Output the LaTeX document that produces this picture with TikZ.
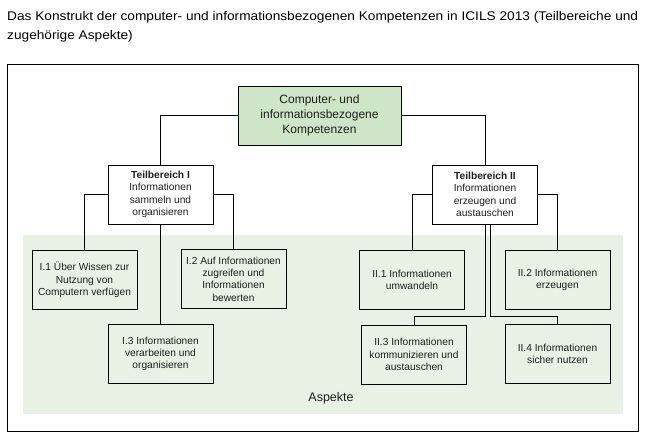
\documentclass[tikz,border=0pt]{standalone}
\usepackage{fontspec}
\setmainfont{Liberation Sans}
\usetikzlibrary{calc}
\definecolor{topgreen}{RGB}{206,229,199}
\definecolor{areagreen}{RGB}{232,241,227}
\definecolor{txt}{RGB}{30,30,30}
\newsavebox\titlebox
\newcommand\titlefont{\fontsize{12.6}{14}\selectfont}
\begin{document}
\sbox\titlebox{\titlefont Das Konstrukt der computer- und informationsbezogenen Kompetenzen in ICILS 2013 (Teilbereiche und}%
\pgfmathsetmacro\tfac{631/\the\wd\titlebox}%
\begin{tikzpicture}[x=1pt,y=-1pt,
  box/.style={draw=black, line width=0.8pt, minimum width=105pt, minimum height=59pt,
    inner sep=0pt, align=center, text=txt, font=\fontsize{10.2}{12.3}\selectfont},
  tbox/.style={box, fill=white},
  conn/.style={draw=black, line width=0.8pt},
  titletext/.style={anchor=base west, inner sep=0pt, text=black}]
\useasboundingbox (0,0) rectangle (648,441);
% title
\node[titletext] (title1) at (7,20.7) {\scalebox{\tfac}[1]{\usebox\titlebox}};
\node[titletext] (title2) at (7,39.3) {\scalebox{\tfac}[1]{\titlefont zugehörige Aspekte)}};
% frame
\draw[line width=1pt] (7,65) rectangle (638,431);
% aspect area
\fill[areagreen] (23,235) rectangle (623,414);
\node[text=txt, font=\fontsize{12.5}{14}\selectfont, inner sep=0pt] (asp) at (331,398) {Aspekte};
% top node
\node[draw=black, line width=0.8pt, fill=topgreen, minimum width=163pt, minimum height=59pt,
  inner sep=0pt, align=center, text=txt, font=\fontsize{12}{15}\selectfont]
  (top) at (319.5,115.5) {Computer- und\\informationsbezogene\\Kompetenzen};
% Teilbereiche
\node[tbox] (T1) at (160.5,194.5) {\textbf{Teilbereich I}\\Informationen\\sammeln und\\organisieren};
\node[tbox] (T2) at (485,194.5) {\textbf{Teilbereich II}\\Informationen\\erzeugen und\\austauschen};
% aspects
\node[box] (A11) at (84.5,280) {I.1 Über Wissen zur\\Nutzung von\\Computern verfügen};
\node[box] (A12) at (233.5,279) {I.2 Auf Informationen\\zugreifen und\\Informationen\\bewerten};
\node[box] (A13) at (160.5,354) {I.3 Informationen\\verarbeiten und\\organisieren};
\node[box] (A21) at (412,280) {II.1 Informationen\\umwandeln};
\node[box] (A22) at (557.5,280) {II.2 Informationen\\erzeugen};
\node[box] (A23) at (414,354.5) {II.3 Informationen\\kommunizieren und\\austauschen};
\node[box] (A24) at (557.5,354) {II.4 Informationen\\sicher nutzen};
% connectors
\draw[conn] (top.west) -| (T1.north);
\draw[conn] (top.east) -| (T2.north);
\draw[conn] (T1.west) -| (A11.north);
\draw[conn] (T1.east) -| (A12.north);
\draw[conn] (T1.south) -- (A13.north);
\draw[conn] (T2.west) -| (A21.north);
\draw[conn] (T2.east) -| (A22.north);
\coordinate (b2) at ($(T2.south)+(5.5,0)$);
\coordinate (j1) at (414,316);
\coordinate (j2) at (557.5,316);
\draw[conn] (T2.south) |- (j1) -- (A23.north);
\draw[conn] (b2) |- (j2) -- (A24.north);
\end{tikzpicture}
\end{document}
